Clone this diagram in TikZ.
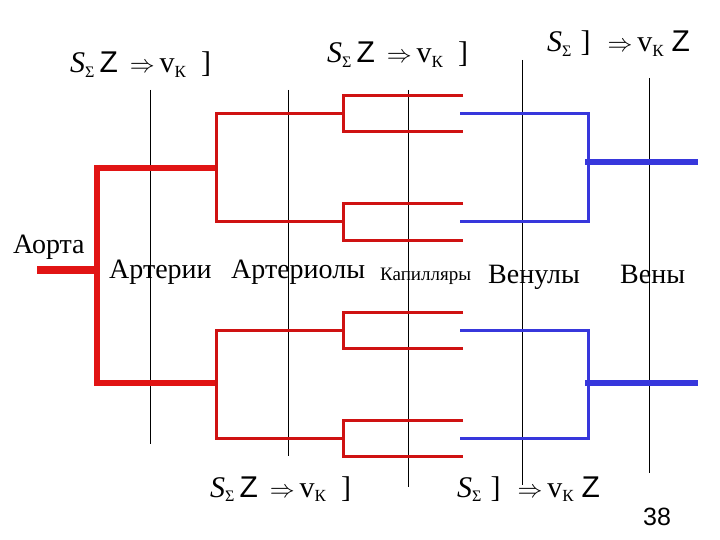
\documentclass[tikz,border=0pt]{standalone}
\usepackage{fontspec}
\setmainfont{Liberation Serif}
\newfontfamily\arialf{Liberation Sans}
\definecolor{artred}{RGB}{225,20,20}
\definecolor{venblue}{RGB}{55,55,220}
\newcommand{\sigS}{{\itshape S}\raisebox{-0.35ex}{\fontsize{16}{16}\selectfont Σ}}
\newcommand{\vK}{v\raisebox{-0.35ex}{\fontsize{17}{17}\selectfont К}}
\newcommand{\bZ}{{\arialf Z}}
\newcommand{\frmA}{\sigS\hspace{5pt}\bZ\hspace{12pt}$\Rightarrow$\hspace{5pt}\vK\hspace{15pt}]}
\newcommand{\frmB}{\sigS\hspace{9pt}]\hspace{17pt}$\Rightarrow$\hspace{5pt}\vK\hspace{8pt}\bZ}
\begin{document}
\begin{tikzpicture}[x=1pt,y=-1pt,
  thinblk/.style={black,line width=0.9pt},
  artA/.style={artred,line width=8pt},
  artB/.style={artred,line width=5.5pt},
  artC/.style={artred!92!black,line width=3pt},
  venC/.style={venblue,line width=3pt},
  venA/.style={venblue,line width=6pt},
  lbl/.style={anchor=base west,inner sep=0pt,font=\fontsize{28}{28}\selectfont},
  frm/.style={anchor=base west,inner sep=0pt,font=\fontsize{30}{30}\selectfont}]
\useasboundingbox (0,0) rectangle (720,540);
% thin black division lines
\draw[thinblk] (150,90) -- (150,444);
\draw[thinblk] (288,90) -- (288,456);
\draw[thinblk] (408,90) -- (408,487);
\draw[thinblk] (522,60) -- (522,485);
\draw[thinblk] (649,78) -- (649,473);
% aorta
\draw[artA] (37,270) -- (100,270);
\draw[artred,line width=6pt] (97,165) -- (97,386);
\draw[artB] (97,168) -- (218,168);
\draw[artB] (97,383) -- (218,383);
% arteries -> arterioles (top)
\draw[artC] (343,114) -| (216,222) -- (343,222);
\draw[artC] (463,96) -| (343,132) -- (463,132);
\draw[artC] (463,204) -| (343,240) -- (463,240);
% bottom
\draw[artC] (343,330) -| (216,438) -- (343,438);
\draw[artC] (463,312) -| (343,348) -- (463,348);
\draw[artC] (463,420) -| (343,456) -- (463,456);
% veins
\draw[venC] (460,114) -| (588,222) -- (460,222);
\draw[venA] (585,162) -- (698,162);
\draw[venC] (460,330) -| (588,438) -- (460,438);
\draw[venA] (585,383) -- (698,383);
% labels
\node[lbl] (aorta) at (13,253) {Аорта};
\node[lbl] (arter) at (109,278) {Артерии};
\node[lbl] (arteriol) at (231,278) {Артериолы};
\node[lbl,font=\fontsize{19}{19}\selectfont] (kap) at (380,280) {Капилляры};
\node[lbl] (venul) at (488,283) {Венулы};
\node[lbl] (veny) at (620,283) {Вены};
% formulas
\node[frm] (f1) at (70,73) {\frmA};
\node[frm] (f2) at (327,63) {\frmA};
\node[frm] (f3) at (547,52) {\frmB};
\node[frm] (f4) at (210,497) {\frmA};
\node[frm] (f5) at (457,497) {\frmB};
\node[anchor=base,inner sep=0pt,font=\arialf\fontsize{25}{25}\selectfont] (pg) at (657,525) {38};
\end{tikzpicture}
\end{document}
